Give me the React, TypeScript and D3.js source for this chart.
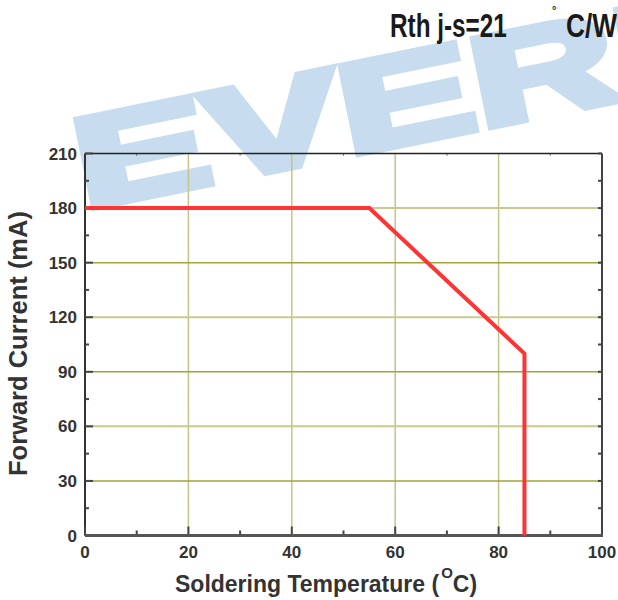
import React, { useEffect, useRef } from "react";
import * as d3 from "d3";

// derating curve
const temps = [0, 55, 85, 85];
const currents = [180, 180, 100, 0];

const xTicks = [0, 20, 40, 60, 80, 100];
const xMinor = [10, 30, 50, 70, 90];
const yTicks = [0, 30, 60, 90, 120, 150, 180, 210];
const yMinor = [15, 45, 75, 105, 135, 165, 195];
const xGrid = [20, 40, 60, 80];
const yGrid = [30, 60, 90, 120, 150, 180];

const App = () => {
  const svgRef = useRef<SVGSVGElement>(null);

  useEffect(() => {
    const svg = d3.select(svgRef.current);
    svg.selectAll("*").remove();

    const width = 618;
    const height = 600;
    const margin = { top: 153.5, right: 16, bottom: 64.5, left: 85 };
    const font = "'Liberation Sans', Arial, sans-serif";

    const x = d3.scaleLinear().domain([0, 100]).range([margin.left, width - margin.right]);
    const y = d3.scaleLinear().domain([0, 210]).range([height - margin.bottom, margin.top]);

    svg.attr("width", width).attr("height", height);

    // watermark
    svg
      .append("text")
      .attr("transform", "translate(84,209) rotate(-11.5) scale(1.58,1)")
      .attr("font-family", font)
      .attr("font-weight", "bold")
      .attr("font-size", 128)
      .attr("fill", "#c7dcee")
      .attr("stroke", "#c7dcee")
      .attr("stroke-width", 8)
      .attr("stroke-linejoin", "miter")
      .text("EVERLIGHT");

    // grid
    svg
      .append("g")
      .selectAll("line")
      .data(xGrid)
      .join("line")
      .attr("x1", (d) => x(d))
      .attr("x2", (d) => x(d))
      .attr("y1", y(210))
      .attr("y2", y(0))
      .attr("stroke", "#c4c488")
      .attr("stroke-width", 1.5);

    svg
      .append("g")
      .selectAll("line")
      .data(yGrid)
      .join("line")
      .attr("x1", x(0))
      .attr("x2", x(100))
      .attr("y1", (d) => y(d))
      .attr("y2", (d) => y(d))
      .attr("stroke", (d) => (d % 60 === 30 ? "#a3a33a" : "#c9c98f"))
      .attr("stroke-width", (d) => (d % 60 === 30 ? 1.5 : 2));

    // frame
    const frame = svg.append("g").attr("fill", "none");
    frame.append("line").attr("x1", x(0)).attr("x2", x(100)).attr("y1", y(210)).attr("y2", y(210)).attr("stroke", "#222").attr("stroke-width", 1.5);
    frame.append("line").attr("x1", x(100)).attr("x2", x(100)).attr("y1", y(210)).attr("y2", y(0)).attr("stroke", "#444").attr("stroke-width", 2);
    frame.append("line").attr("x1", x(0)).attr("x2", x(0)).attr("y1", y(210)).attr("y2", y(0)).attr("stroke", "#333").attr("stroke-width", 2);

    // ticks (inward)
    const ticks = svg.append("g").attr("stroke", "#444").attr("stroke-width", 2);
    ticks
      .selectAll(".xt")
      .data(xTicks)
      .join("line")
      .attr("x1", (d) => x(d))
      .attr("x2", (d) => x(d))
      .attr("y1", y(0))
      .attr("y2", y(0) - 9);
    ticks
      .selectAll(".xm")
      .data(xMinor)
      .join("line")
      .attr("x1", (d) => x(d))
      .attr("x2", (d) => x(d))
      .attr("y1", y(0))
      .attr("y2", y(0) - 5);
    ticks
      .selectAll(".xtop")
      .data(xMinor)
      .join("line")
      .attr("x1", (d) => x(d))
      .attr("x2", (d) => x(d))
      .attr("y1", y(210))
      .attr("y2", y(210) + 2)
      .attr("stroke-width", 1);
    ticks
      .selectAll(".yt")
      .data(yTicks)
      .join("line")
      .attr("x1", x(0))
      .attr("x2", x(0) + 8)
      .attr("y1", (d) => y(d))
      .attr("y2", (d) => y(d));
    ticks
      .selectAll(".ym")
      .data(yMinor)
      .join("line")
      .attr("x1", x(0))
      .attr("x2", x(0) + 4)
      .attr("y1", (d) => y(d))
      .attr("y2", (d) => y(d));
    ticks
      .selectAll(".yr")
      .data(yMinor.concat(yTicks))
      .join("line")
      .attr("x1", x(100))
      .attr("x2", x(100) - 4)
      .attr("y1", (d) => y(d))
      .attr("y2", (d) => y(d));

    // bottom axis line, thick gray
    svg.append("line").attr("x1", x(0)).attr("x2", x(100) + 1).attr("y1", y(0)).attr("y2", y(0)).attr("stroke", "#555").attr("stroke-width", 3);

    // curve
    const line = d3
      .line<number>()
      .x((d, i) => x(temps[i]))
      .y((d) => y(d));
    svg
      .append("path")
      .attr("d", line(currents))
      .attr("fill", "none")
      .attr("stroke", "#ff3333")
      .attr("stroke-width", 4)
      .attr("stroke-linejoin", "miter");

    // tick labels
    const labels = svg.append("g").attr("font-family", font).attr("font-weight", "bold").attr("font-size", 17).attr("fill", "#333");
    labels
      .selectAll(".xl")
      .data(xTicks)
      .join("text")
      .attr("x", (d) => x(d))
      .attr("y", 558)
      .attr("text-anchor", "middle")
      .text((d) => d);
    labels
      .selectAll(".yl")
      .data(yTicks)
      .join("text")
      .attr("x", 77)
      .attr("y", (d) => y(d) + 6)
      .attr("text-anchor", "end")
      .text((d) => d);

    // axis titles
    const xLabel = svg
      .append("text")
      .attr("x", 175)
      .attr("y", 592)
      .attr("font-family", font)
      .attr("font-weight", "bold")
      .attr("font-size", 23)
      .attr("fill", "#333");
    xLabel.append("tspan").text("Soldering Temperature (");
    xLabel.append("tspan").attr("font-size", 15).attr("dy", -14).attr("dx", 2).text("O");
    xLabel.append("tspan").attr("dy", 14).text("C)");

    svg
      .append("text")
      .attr("transform", "rotate(-90)")
      .attr("x", -343.5)
      .attr("y", 26.5)
      .attr("text-anchor", "middle")
      .attr("font-family", font)
      .attr("font-weight", "bold")
      .attr("font-size", 25.5)
      .attr("fill", "#333")
      .text("Forward Current (mA)");

    // thermal resistance note (runs off the right edge like the original)
    const note = svg.append("g").attr("font-family", font).attr("font-weight", "bold").attr("fill", "#1a1a1a");
    note.append("text").attr("transform", "translate(390,36.7) scale(0.76,1.02)").attr("font-size", 32).text("Rth j-s=21");
    note.append("text").attr("x", 552).attr("y", 14).attr("font-size", 11).text("°");
    note.append("text").attr("transform", "translate(566,36.7) scale(0.82,1.02)").attr("font-size", 32).text("C/W");
  }, []);

  return <svg ref={svgRef} style={{ position: "absolute", left: 0, top: 0 }}></svg>;
};

export default App;
